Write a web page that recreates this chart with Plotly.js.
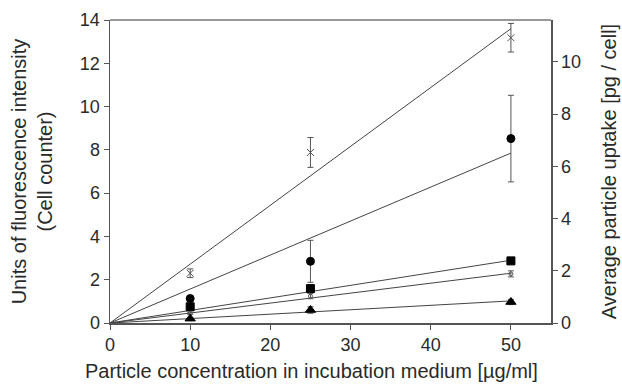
<!DOCTYPE html>
<html>
<head>
<meta charset="utf-8">
<script src="https://cdn.plot.ly/plotly-3.0.1.min.js"></script>
<style>html,body{margin:0;padding:0;background:#fff;}#chart{width:622px;height:384px;}</style>
</head>
<body>
<div id="chart"></div>
<script>
// Data
const concentrations = [10, 25, 50];
const crossY = [2.30, 7.88, 13.18];
const crossErr = [0.2, 0.69, 0.66];
const circleY = [1.13, 2.85, 8.52];
const circleErr = [0, 0.97, 2.0];
const squareY = [0.75, 1.59, 2.87];
const squareErr = [0, 0, 0];
const openY = [0.45, 1.24, 2.27];
const openErr = [0.05, 0.12, 0.14];
const triangleY = [0.2, 0.6, 0.97];
const triangleErr = [0.05, 0.15, 0.12];

// Fitted lines (through origin), end values read at 50 µg/ml
const fitX = [0, 50];
const fitCross = [0, 13.6];
const fitCircle = [0, 7.85];
const fitSquare = [0, 2.9];
const fitOpen = [0, 2.3];
const fitTriangle = [0, 1.02];

const xTicks = [0, 10, 20, 30, 40, 50];
const yTicks = [0, 2, 4, 6, 8, 10, 12, 14];
const y2Ticks = [0, 2, 4, 6, 8, 10];

const xTitle = 'Particle concentration in incubation medium [µg/ml]';

const lineColor = '#444';
const errColor = '#555';

function fit(y) {
  return {x: fitX, y: y, mode: 'lines', line: {color: lineColor, width: 1}, hoverinfo: 'skip', showlegend: false};
}
function pts(y, err, symbol, size, color) {
  return {
    x: concentrations, y: y, mode: 'markers',
    marker: {symbol: symbol, size: size, color: color, line: {color: color, width: 1}},
    error_y: {type: 'data', array: err, visible: true, color: errColor, thickness: 1, width: 3},
    showlegend: false
  };
}

const traces = [
  fit(fitCross), fit(fitCircle), fit(fitSquare), fit(fitOpen), fit(fitTriangle),
  pts(crossY, crossErr, 'x-thin', 7, '#555'),
  pts(circleY, circleErr, 'circle', 8, '#000'),
  pts(squareY, squareErr, 'square', 8, '#000'),
  pts(openY, openErr, 'circle-open', 4, '#555'),
  pts(triangleY, triangleErr, 'triangle-up', 9, '#000'),
  {x: [0], y: [0], yaxis: 'y2', mode: 'markers', marker: {opacity: 0}, hoverinfo: 'skip', showlegend: false}
];

const tickFont = {family: 'Liberation Sans, Arial, sans-serif', size: 18, color: '#2a2a2a'};
const titleFont = {family: 'Liberation Sans, Arial, sans-serif', size: 20, color: '#2a2a2a'};

const layout = {
  width: 622, height: 384,
  margin: {l: 110, r: 71, t: 20, b: 61},
  paper_bgcolor: '#fff', plot_bgcolor: '#fff',
  font: tickFont,
  showlegend: false,
  xaxis: {
    range: [0, 55], tickvals: xTicks, ticks: 'outside', ticklen: 5, tickcolor: '#555',
    tickfont: tickFont,
    showline: true, linecolor: '#555', linewidth: 1.5, showgrid: false, zeroline: false,
    mirror: false
  },
  yaxis: {
    range: [0, 14], tickvals: yTicks, ticks: 'outside', ticklen: 5, tickcolor: '#555',
    tickfont: tickFont,
    showline: true, linecolor: '#555', linewidth: 1.5, showgrid: false, zeroline: false,
    title: {text: 'Units of fluorescence intensity<br>(Cell counter)', font: titleFont, standoff: 22}
  },
  yaxis2: {
    overlaying: 'y', side: 'right', range: [0, 11.6], tickvals: y2Ticks,
    ticks: 'outside', ticklen: 5, tickcolor: '#555',
    tickfont: tickFont,
    showline: true, linecolor: '#555', linewidth: 1.5, showgrid: false, zeroline: false,
    title: {text: 'Average particle uptake [pg / cell]', font: titleFont, standoff: 22}
  },
  annotations: [
    {text: xTitle, xref: 'paper', yref: 'paper', x: 0.457, y: -0.158, xanchor: 'center', yanchor: 'middle',
     showarrow: false, font: titleFont}
  ],
  shapes: [
    {type: 'line', xref: 'paper', yref: 'paper', x0: 0, x1: 1, y0: 1, y1: 1, line: {color: '#777', width: 1.5}}
  ]
};

Plotly.newPlot('chart', traces, layout, {staticPlot: true, displayModeBar: false});
</script>
</body>
</html>
